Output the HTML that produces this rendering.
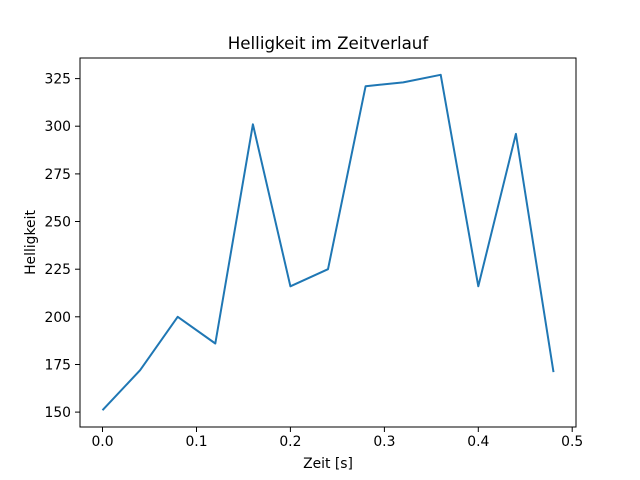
<!DOCTYPE html>
<html><head><meta charset="utf-8"><style>body{margin:0;background:#fff}svg{display:block}text{font-family:"DejaVu Sans","Liberation Sans",sans-serif;fill:#000}</style></head><body>
<svg width="640" height="480" viewBox="0 0 640 480">
<rect width="640" height="480" fill="#fff"/>
<polyline fill="none" stroke="#1f77b4" stroke-width="2" stroke-linejoin="round" points="102.5,410.2 140.1,370.2 177.7,316.8 215.3,343.5 252.9,124.3 290.4,286.3 328,269.2 365.6,86.2 403.2,82.4 440.7,74.8 478.3,286.3 515.9,133.9 553.5,372.1"/>
<rect x="80" y="58" width="496" height="369" fill="none" stroke="#000" stroke-width="1"/>
<g stroke="#000" stroke-width="1">
<line x1="102.5" y1="427" x2="102.5" y2="432"/><line x1="196.5" y1="427" x2="196.5" y2="432"/><line x1="290.4" y1="427" x2="290.4" y2="432"/><line x1="384.4" y1="427" x2="384.4" y2="432"/><line x1="478.3" y1="427" x2="478.3" y2="432"/><line x1="572.2" y1="427" x2="572.2" y2="432"/>
<line x1="75" y1="412.1" x2="80" y2="412.1"/><line x1="75" y1="364.5" x2="80" y2="364.5"/><line x1="75" y1="316.8" x2="80" y2="316.8"/><line x1="75" y1="269.2" x2="80" y2="269.2"/><line x1="75" y1="221.5" x2="80" y2="221.5"/><line x1="75" y1="173.9" x2="80" y2="173.9"/><line x1="75" y1="126.2" x2="80" y2="126.2"/><line x1="75" y1="78.6" x2="80" y2="78.6"/>
</g>
<g font-size="13.9" text-anchor="middle">
<text x="102.5" y="446">0.0</text><text x="196.5" y="446">0.1</text><text x="290.4" y="446">0.2</text><text x="384.4" y="446">0.3</text><text x="478.3" y="446">0.4</text><text x="572.2" y="446">0.5</text>
</g>
<g font-size="13.9" text-anchor="end">
<text x="71" y="417.1">150</text><text x="71" y="369.5">175</text><text x="71" y="321.8">200</text><text x="71" y="274.2">225</text><text x="71" y="226.5">250</text><text x="71" y="178.9">275</text><text x="71" y="131.2">300</text><text x="71" y="83.6">325</text>
</g>
<text x="328" y="468" font-size="13.9" text-anchor="middle">Zeit [s]</text>
<text transform="translate(35,242.5) rotate(-90)" font-size="13.9" text-anchor="middle">Helligkeit</text>
<text x="328" y="49" font-size="16.7" text-anchor="middle">Helligkeit im Zeitverlauf</text>
</svg>
</body></html>
